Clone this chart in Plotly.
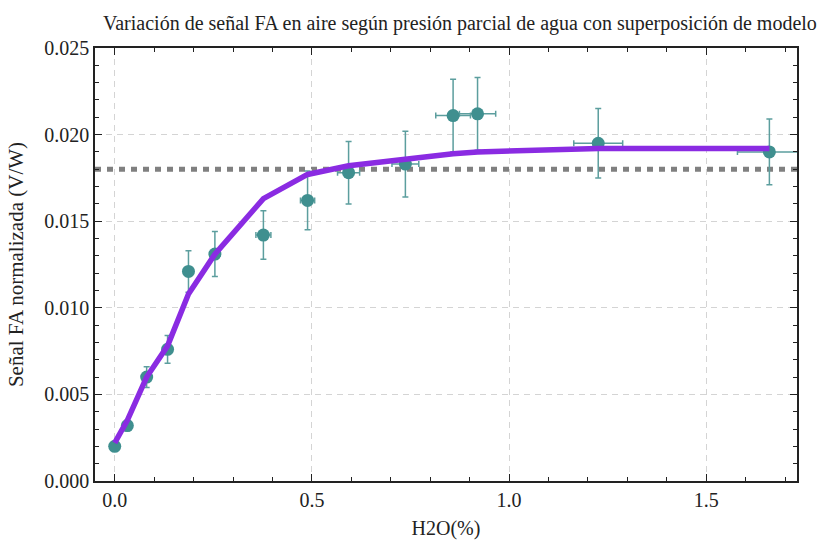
import plotly.graph_objects as go

# Measured water content (%) and normalised photoacoustic signal (V/W)
h2o_pct = [0.0, 0.032, 0.081, 0.134, 0.187, 0.254, 0.377, 0.489, 0.593,
           0.737, 0.858, 0.920, 1.226, 1.660]
signal = [0.0020, 0.0032, 0.0060, 0.0076, 0.0121, 0.0131, 0.0142, 0.0162,
          0.0178, 0.0183, 0.0211, 0.0212, 0.0195, 0.0190]
err_x = [0.002, 0.002, 0.004, 0.007, 0.009, 0.013, 0.019, 0.018, 0.028,
         0.034, 0.044, 0.046, 0.062, 0.081]
err_y = [0.0002, 0.0003, 0.0006, 0.0008, 0.0012, 0.0013, 0.0014, 0.0017,
         0.0018, 0.0019, 0.0021, 0.0021, 0.0020, 0.0019]

# Model evaluated at the measured water contents
model = [0.0022, 0.0035, 0.0060, 0.0078, 0.0108, 0.0131, 0.0163, 0.0177,
         0.0182, 0.0186, 0.0189, 0.0190, 0.0192, 0.0192]

# Reference saturation level
saturation = 0.018

x_ticks = [0.0, 0.5, 1.0, 1.5]
y_ticks = [0.000, 0.005, 0.010, 0.015, 0.020, 0.025]

SERIF = "Liberation Serif, Times New Roman, serif"
TEAL = "#3f8f8f"
TEAL_ERR = "#5c9e9e"
PURPLE = "#8a2be2"
INK = "#222222"

fig = go.Figure()

fig.add_hline(y=saturation, line=dict(color="#808080", width=5, dash="6px,6px"),
              layer="below")

fig.add_trace(go.Scatter(
    x=h2o_pct, y=signal, mode="markers",
    marker=dict(size=13, color=TEAL),
    error_x=dict(type="data", array=err_x, color=TEAL_ERR, thickness=1.5, width=3),
    error_y=dict(type="data", array=err_y, color=TEAL_ERR, thickness=1.5, width=3),
    showlegend=False,
))

fig.add_trace(go.Scatter(
    x=h2o_pct, y=model, mode="lines",
    line=dict(color=PURPLE, width=5.5),
    showlegend=False,
))

axis_common = dict(
    showline=True, linecolor=INK, linewidth=1.5, mirror="ticks",
    ticks="inside", ticklen=7, tickwidth=1.2, tickcolor=INK,
    showgrid=True, gridcolor="#d4d4d4", gridwidth=1, griddash="6px,5px",
    zeroline=False, automargin=False,
    tickfont=dict(family=SERIF, size=20, color=INK),
)

fig.update_xaxes(
    **axis_common,
    range=[-0.05, 1.73],
    tickvals=x_ticks, ticktext=[f"{v:.1f}" for v in x_ticks],
    minor=dict(dtick=0.1, ticks="inside", ticklen=4, tickcolor=INK, showgrid=False),
    title=dict(text="H2O(%)", font=dict(family=SERIF, size=20, color=INK)),
)
fig.update_yaxes(
    **axis_common,
    range=[0.0, 0.025],
    tickvals=y_ticks, ticktext=[f"{v:.3f}" for v in y_ticks],
    minor=dict(dtick=0.001, ticks="inside", ticklen=4, tickcolor=INK, showgrid=False),
    title=dict(text="Señal FA normalizada (V/W)", font=dict(family=SERIF, size=21, color=INK)),
)

fig.update_layout(
    width=827, height=540,
    margin=dict(l=95, r=30, t=48, b=59),
    paper_bgcolor="white", plot_bgcolor="white",
    title=dict(
        text="Variación de señal FA en aire según presión parcial de agua con superposición de modelo",
        font=dict(family=SERIF, size=20, color=INK),
        xref="container", x=103 / 827, xanchor="left",
        yref="container", y=1 - 23 / 540, yanchor="middle",
    ),
)

fig.write_html("out.html")
